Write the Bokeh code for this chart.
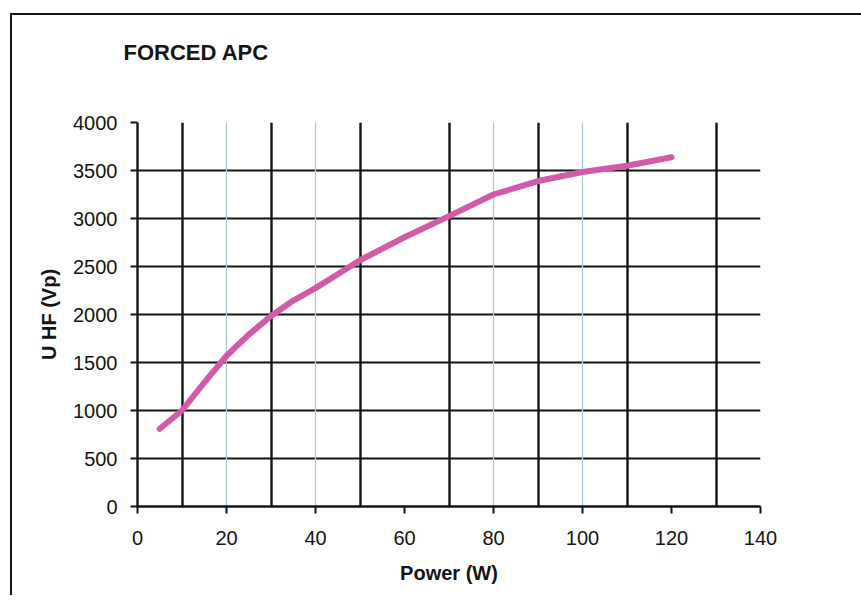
from bokeh.plotting import figure
from bokeh.models import FixedTicker, Grid, Range1d, InlineStyleSheet, Title
from bokeh.embed import file_html
from bokeh.resources import INLINE

# Data
power_w = [5, 10, 15, 20, 25, 30, 35, 40, 45, 50, 60, 70, 80, 90, 100, 110, 120]
u_hf_vp = [810, 1000, 1290, 1570, 1790, 1985, 2145, 2275, 2420, 2565, 2805, 3025,
           3250, 3390, 3485, 3550, 3638]

x_ticks = [0, 20, 40, 60, 80, 100, 120, 140]
y_ticks = [0, 500, 1000, 1500, 2000, 2500, 3000, 3500, 4000]
black_grid_x = [10, 30, 50, 70, 90, 110, 130]
light_grid_x = [20, 40, 80, 100, 140]
chart_title = "FORCED APC"

FONT = "Liberation Sans"
INK = "#141414"

frame_css = InlineStyleSheet(css="""
:host { position: relative; }
:host::after {
  content: ""; position: absolute; left: 10px; top: 13px; right: -16px; bottom: 0;
  border-top: 2.5px solid #141414; border-left: 2.5px solid #141414;
  pointer-events: none;
}
""")

p = figure(width=845, height=595, output_backend="svg", toolbar_location=None,
           x_range=Range1d(0, 140), y_range=Range1d(0, 4000),
           min_border_left=137, min_border_right=85, min_border_top=100,
           min_border_bottom=89, background_fill_color="white",
           border_fill_color="white", stylesheets=[frame_css])
p.outline_line_color = None

# spacer panel next to the frame, then the real title above it
spacer = Title(text=" ", text_font_size="1px", standoff=14, text_color="white")
p.add_layout(spacer, "above")
main_title = Title(text=chart_title, text_font=FONT, text_font_size="22px",
                   text_font_style="bold", text_color=INK, align="left",
                   vertical_align="top", offset=-14, standoff=78)
p.add_layout(main_title, "above")

# grids
p.xgrid.visible = False
p.ygrid.ticker = FixedTicker(ticks=y_ticks)
p.ygrid.grid_line_color = INK
p.ygrid.grid_line_width = 2.2

g_light = Grid(dimension=0, ticker=FixedTicker(ticks=light_grid_x),
               grid_line_color="#a2cbe2", grid_line_width=1.3)
g_black = Grid(dimension=0, ticker=FixedTicker(ticks=black_grid_x),
               grid_line_color=INK, grid_line_width=2.4)
p.add_layout(g_light)
p.add_layout(g_black)

# axes
for ax in (p.xaxis[0], p.yaxis[0]):
    ax.axis_line_color = INK
    ax.axis_line_width = 2.4
    ax.major_tick_line_color = INK
    ax.major_tick_line_width = 2
    ax.major_tick_out = 7
    ax.major_tick_in = 0
    ax.minor_tick_line_color = None
    ax.major_label_text_font = FONT
    ax.major_label_text_font_size = "20px"
    ax.major_label_text_color = INK
    ax.axis_label_text_font = FONT
    ax.axis_label_text_font_size = "20px"
    ax.axis_label_text_font_style = "bold"
    ax.axis_label_text_color = INK

p.xaxis.ticker = FixedTicker(ticks=x_ticks)
p.yaxis.ticker = FixedTicker(ticks=y_ticks)
p.xaxis.axis_label = "Power (W)"
p.yaxis.axis_label = "U HF (Vp)"
p.xaxis.major_label_standoff = 17
p.yaxis.major_label_standoff = 13
p.xaxis.axis_label_standoff = 14
p.yaxis.axis_label_standoff = 10

# curve
p.line(power_w, u_hf_vp, line_color="#d35aa9", line_width=6,
       line_cap="round", line_join="round")

open("out.html", "w").write(file_html(p, INLINE))
